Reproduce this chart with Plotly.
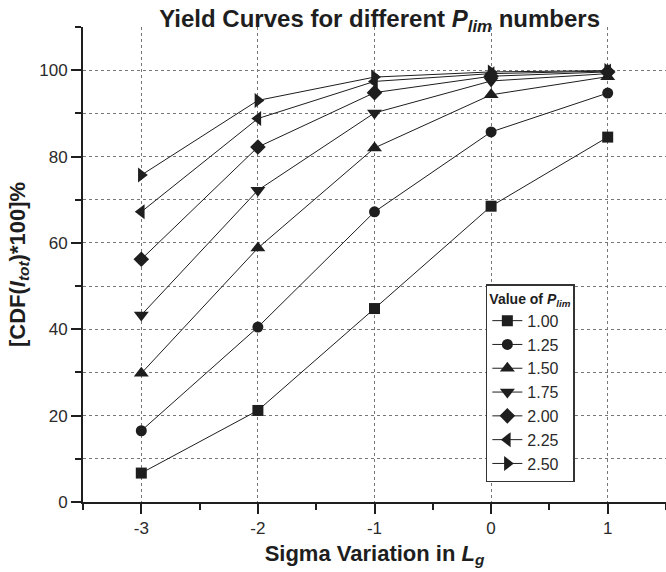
import plotly.graph_objects as go

sigma = [-3, -2, -1, 0, 1]
plim_labels = ["1.00", "1.25", "1.50", "1.75", "2.00", "2.25", "2.50"]
y_100 = [6.7, 21.2, 44.8, 68.5, 84.5]
y_125 = [16.5, 40.5, 67.2, 85.7, 94.7]
y_150 = [29.8, 58.8, 82.0, 94.3, 98.5]
y_175 = [43.3, 72.2, 90.1, 97.5, 99.2]
y_200 = [56.2, 82.2, 94.8, 98.6, 99.6]
y_225 = [67.2, 88.8, 97.4, 99.2, 99.8]
y_250 = [75.7, 93.0, 98.4, 99.6, 99.9]
series = [y_100, y_125, y_150, y_175, y_200, y_225, y_250]
symbols = ["square", "circle", "triangle-up", "triangle-down", "diamond",
           "triangle-left", "triangle-right"]
sizes = [11, 11, 13, 13, 12, 13, 13]

FONT = "Arial, 'Liberation Sans', sans-serif"
INK = "#1e1e1e"

fig = go.Figure()
for lab, ys, sym, sz in zip(plim_labels, series, symbols, sizes):
    fig.add_trace(go.Scatter(
        x=sigma, y=ys, name=lab, mode="lines+markers",
        line=dict(color=INK, width=1),
        marker=dict(symbol=sym, size=sz, color=INK),
    ))

fig.update_layout(
    width=666, height=572,
    margin=dict(l=83, r=0, t=27, b=70),
    paper_bgcolor="white", plot_bgcolor="white",
    font=dict(family=FONT, color="#2a2a2a", size=17),
    title=dict(
        text="<b>Yield Curves for different <i>P</i><sub><i>lim</i></sub> numbers</b>",
        x=0.57, xanchor="center", y=0.983, yanchor="top",
        font=dict(size=24, color="#1e1e1e"),
    ),
    legend=dict(
        title=dict(text="<b>Value of <i>P</i><sub><i>lim</i></sub></b>",
                   font=dict(size=14, color="#1e1e1e")),
        x=0.691, xanchor="left", y=0.042, yanchor="bottom",
        bordercolor="#333", borderwidth=1.5, bgcolor="white",
        font=dict(size=16, color="#2a2a2a"),
        tracegroupgap=0,
    ),
    showlegend=True,
)

fig.update_xaxes(
    range=[-3.5, 1.5], showline=True, linecolor=INK, linewidth=2,
    tickmode="array", tickvals=sigma, ticktext=["-3", "-2", "-1", "0", "1"],
    ticks="outside", ticklen=10, tickwidth=2, tickcolor=INK,
    showgrid=True, gridcolor="#777", griddash="dot", gridwidth=1,
    minor=dict(tickvals=[-3.5, -2.5, -1.5, -0.5, 0.5, 1.5], ticks="outside",
               ticklen=6, tickwidth=2, tickcolor=INK, showgrid=False),
    zeroline=False,
    tickfont=dict(size=17),
    title=dict(text="<b>Sigma Variation in <i>L</i><sub><i>g</i></sub></b>",
               font=dict(size=22, color="#1e1e1e"), standoff=8),
)
fig.update_yaxes(
    range=[0, 110], showline=True, linecolor=INK, linewidth=2,
    tickmode="array", tickvals=[0, 20, 40, 60, 80, 100],
    ticks="outside", ticklen=10, tickwidth=2, tickcolor=INK,
    showgrid=True, gridcolor="#777", griddash="dot", gridwidth=1,
    minor=dict(tickvals=[10, 30, 50, 70, 90, 110], ticks="outside",
               ticklen=6, tickwidth=2, tickcolor=INK, showgrid=True,
               gridcolor="#777", griddash="dot", gridwidth=1),
    zeroline=False,
    tickfont=dict(size=17),
    title=dict(text="<b>[CDF(<i>I</i><sub><i>tot</i></sub>)*100]%</b>",
               font=dict(size=22, color="#1e1e1e"), standoff=8),
)

fig.write_html("out.html")
